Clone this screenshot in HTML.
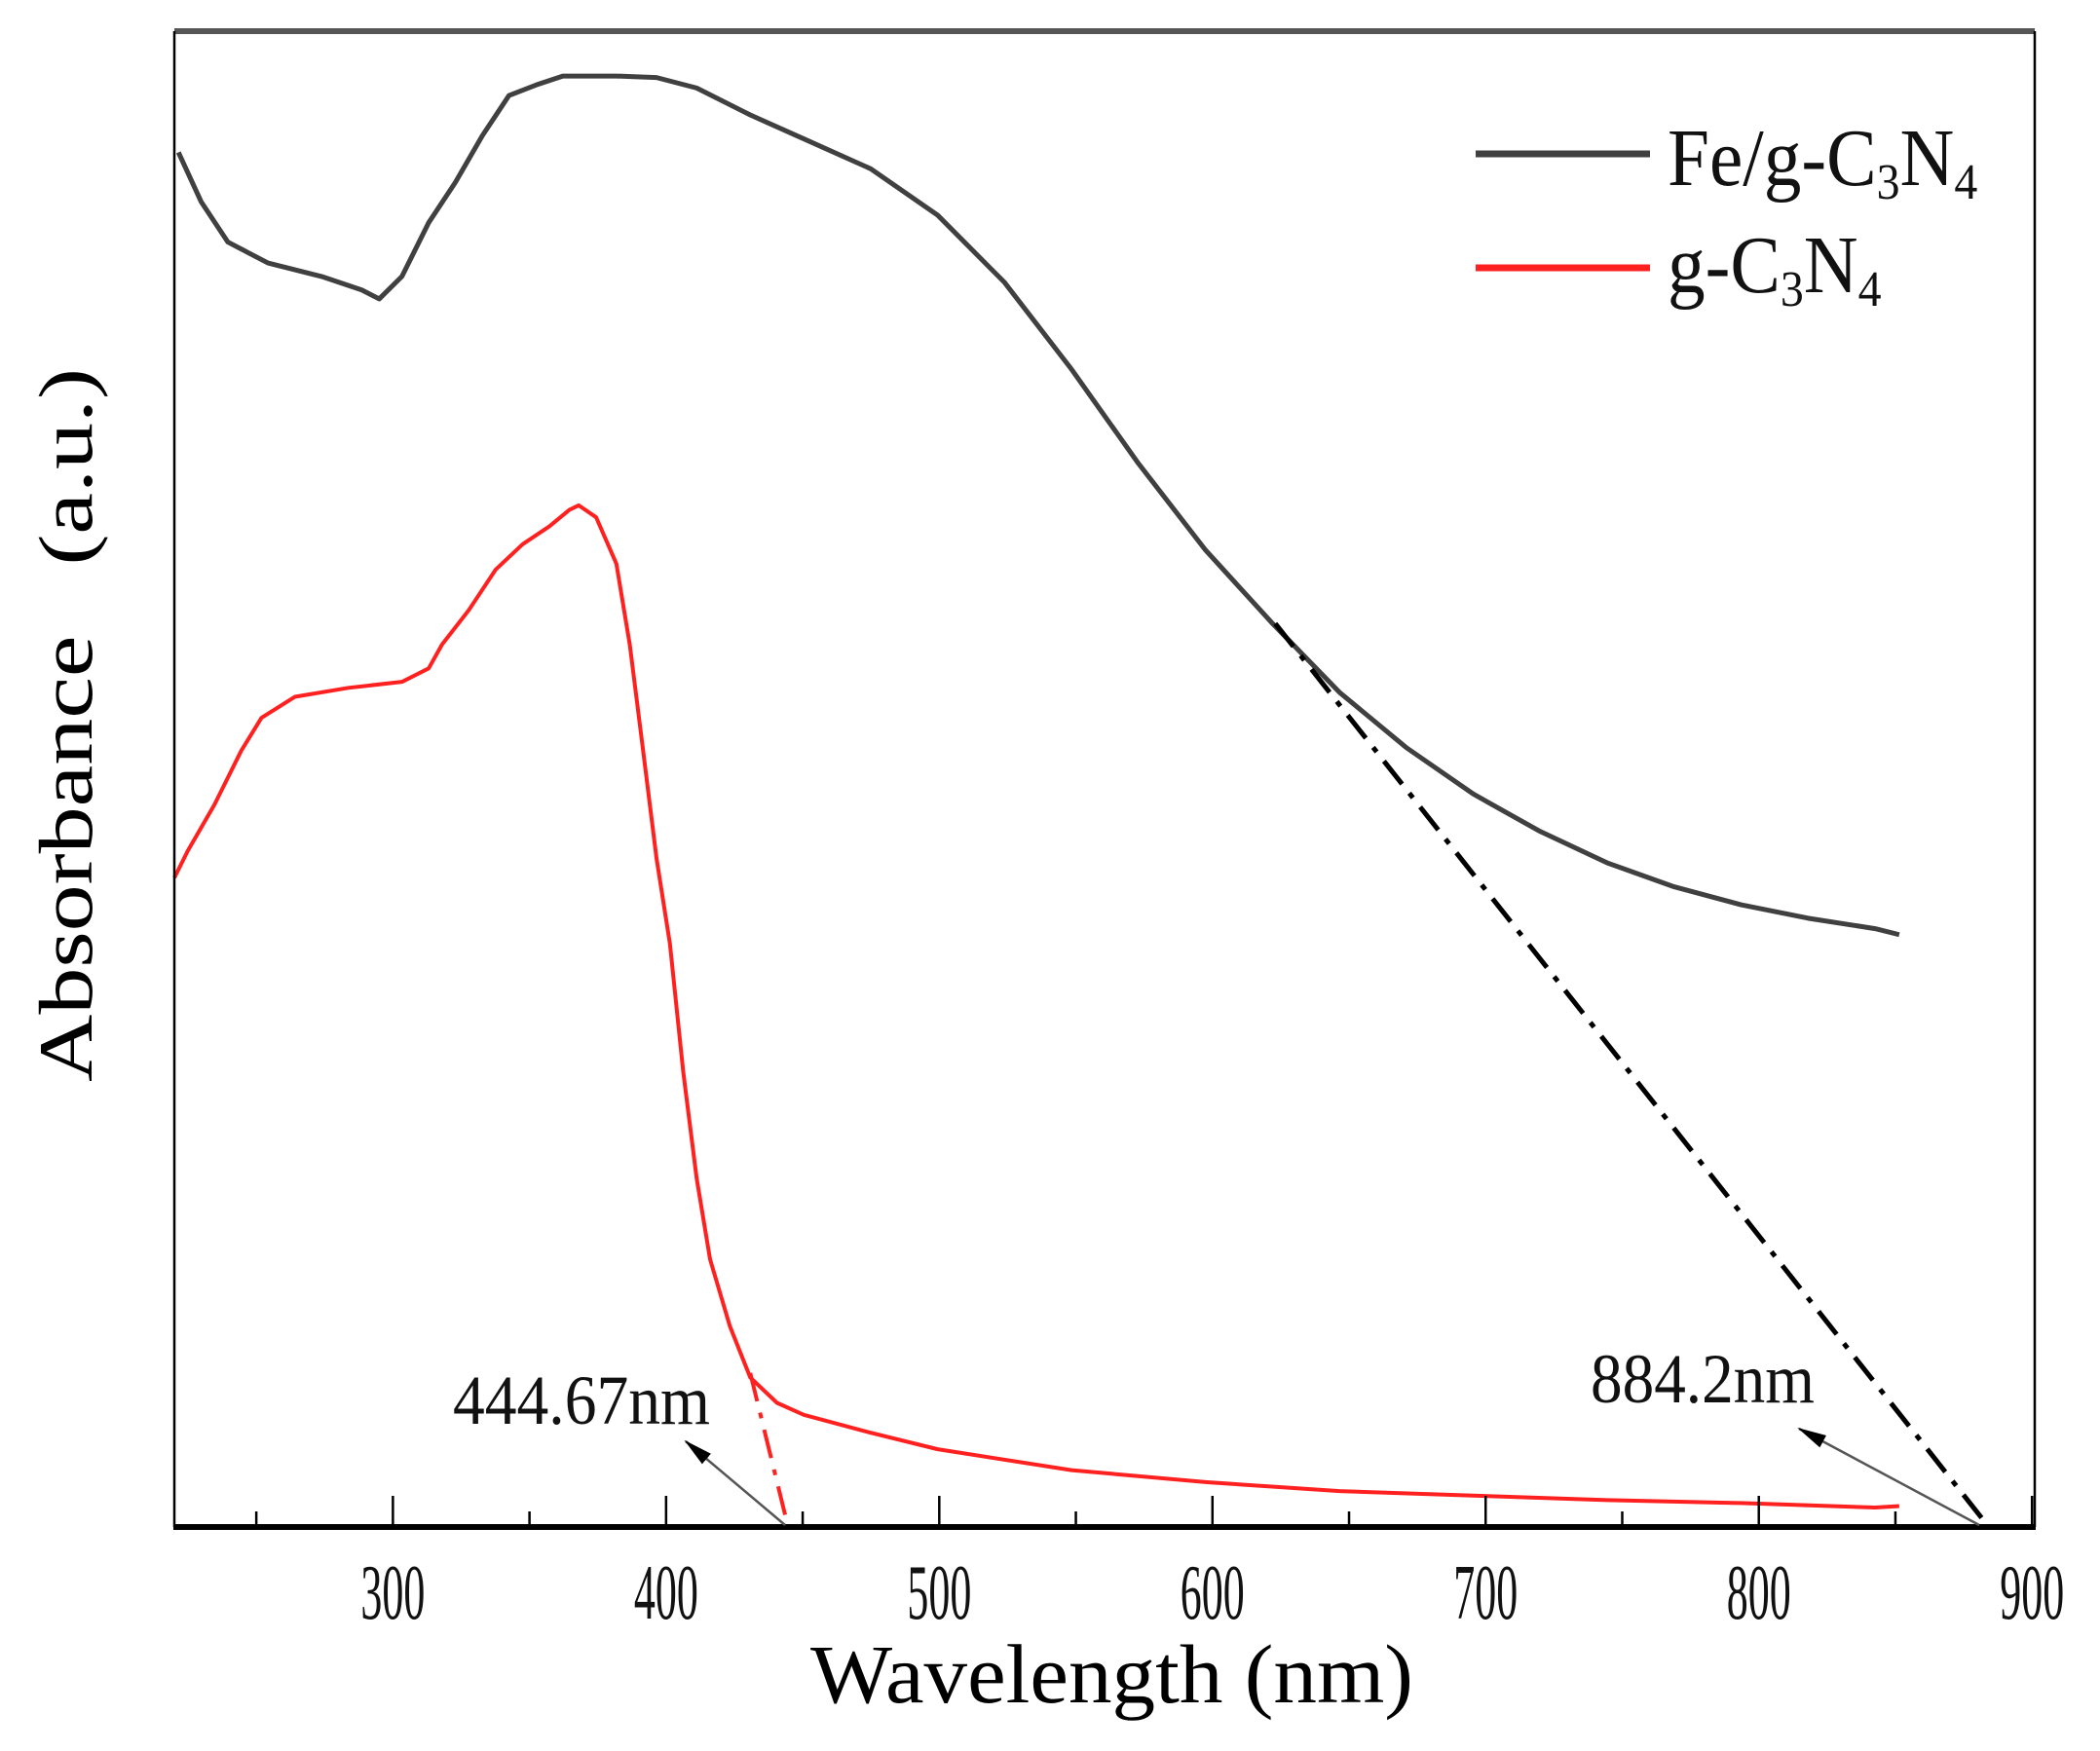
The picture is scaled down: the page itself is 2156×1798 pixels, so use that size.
<!DOCTYPE html>
<html><head><meta charset="utf-8"><style>
html,body{margin:0;padding:0;background:#fff;}
svg{display:block;font-family:"Liberation Serif",serif;}
</style></head><body>
<svg id="chart" width="2156" height="1798" viewBox="0 0 2156 1798">
<defs>
<marker id="ah" markerWidth="30" markerHeight="20" refX="28" refY="10" orient="auto" markerUnits="userSpaceOnUse" viewBox="0 0 30 20">
<path d="M0,3 L30,10 L0,17 Z" fill="#000"/>
</marker>
</defs>
<g id="plot"></g>
<text x="1712" y="190" font-size="84" fill="#111" transform="translate(1712,0) scale(0.92,1) translate(-1712,0)">Fe/g-C<tspan font-size="52" dy="14">3</tspan><tspan dy="-14">N</tspan><tspan font-size="52" dy="14">4</tspan></text>
<text x="1712" y="300" font-size="84" fill="#111" transform="translate(1712,0) scale(0.92,1) translate(-1712,0)">g-C<tspan font-size="52" dy="14">3</tspan><tspan dy="-14">N</tspan><tspan font-size="52" dy="14">4</tspan></text>
</svg>
<script>
const feX=[221.5,229.8,239.6,254.3,273.9,288.6,295,303.3,313.1,322.9,332.7,342.5,352.4,362.2,381.8,396.5,411.2,430.8,450.4,474.9,499.4,523.9,548.4,572.9,597.5,622,646.5,671,695.5,720,744.5,769,793.5,818,842.6,851.4];
const feY=[0.919,0.886,0.859,0.845,0.836,0.827,0.821,0.836,0.872,0.899,0.930,0.957,0.964,0.970,0.970,0.969,0.962,0.944,0.928,0.908,0.877,0.832,0.774,0.711,0.653,0.604,0.558,0.521,0.490,0.465,0.444,0.428,0.416,0.407,0.400,0.396];
const cnX=[220,224.9,234.7,244.5,251.9,264.1,283.7,303.3,313.1,318,327.8,337.6,347.5,357.3,364.6,368,374.4,381.8,386.7,391.6,396.5,401.4,406.3,411.2,416.1,423.4,430.8,440.6,450.4,474.9,499.4,548.4,597.5,646.5,695.5,744.5,793.5,842.6,851.4];
const cnY=[0.434,0.452,0.483,0.519,0.541,0.555,0.561,0.565,0.574,0.590,0.613,0.640,0.657,0.669,0.680,0.683,0.675,0.644,0.590,0.519,0.447,0.390,0.304,0.233,0.179,0.134,0.100,0.083,0.075,0.063,0.052,0.038,0.030,0.024,0.021,0.018,0.016,0.013,0.014];
const feTangent=[[623,0.604],[884.2,0]];
const cnTangent=[[430.8,0.103],[444.67,0]];
const majorTicks=[300,400,500,600,700,800,900];
const minorTicks=[250,350,450,550,650,750,850];
const tickLabels=["300","400","500","600","700","800","900"];

(function(){
const L=179,R=2089,T=32,B=1568;
const xMin=220,xMax=901;
const sx=v=>L+(v-xMin)/(xMax-xMin)*(R-L);
const sy=v=>B-v*(B-T);
const NS="http://www.w3.org/2000/svg";
const g=document.getElementById('plot');
function mk(tag,attrs){const e=document.createElementNS(NS,tag);for(const k in attrs)e.setAttribute(k,attrs[k]);g.appendChild(e);return e;}

const pFe=mk('polyline',{points:feX.map((x,i)=>sx(x)+','+sy(feY[i])).join(' '),fill:'none',stroke:'#404040','stroke-width':5,'stroke-linejoin':'round'});


const pCn=mk('polyline',{points:cnX.map((x,i)=>sx(x)+','+sy(cnY[i])).join(' '),fill:'none',stroke:'#ff2020','stroke-width':4,'stroke-linejoin':'round'});


const tFe=mk('line',{x1:sx(feTangent[0][0]),y1:sy(feTangent[0][1]),x2:sx(feTangent[1][0]),y2:sy(feTangent[1][1]),stroke:'#000','stroke-width':5,'stroke-dasharray':'30,12,6,12'});


const tCn=mk('line',{x1:sx(cnTangent[0][0]),y1:sy(cnTangent[0][1]),x2:sx(cnTangent[1][0]),y2:sy(cnTangent[1][1]),stroke:'#ff2020','stroke-width':4,'stroke-dasharray':'30,12,6,12'});



const axTop=mk('line',{x1:L,y1:T,x2:R,y2:T,stroke:'#555','stroke-width':6});


const axLeft=mk('line',{x1:L,y1:T,x2:L,y2:B,stroke:'#000','stroke-width':2.5});


const axRight=mk('line',{x1:R,y1:T,x2:R,y2:B,stroke:'#000','stroke-width':2.5});


const axBot=mk('line',{x1:L-1,y1:B,x2:R+1,y2:B,stroke:'#000','stroke-width':6});



majorTicks.forEach((t,i)=>{
  const tk=mk('line',{x1:sx(t),y1:B,x2:sx(t),y2:B-32,stroke:'#000','stroke-width':2.5});
  
  
  const lb=mk('text',{x:sx(t),y:1662,'font-size':80,'text-anchor':'middle',textLength:66,lengthAdjust:'spacingAndGlyphs',fill:'#111'});
  lb.textContent=tickLabels[i];
  
  
});
minorTicks.forEach(t=>{
  const tk=mk('line',{x1:sx(t),y1:B,x2:sx(t),y2:B-16,stroke:'#000','stroke-width':2.5});
  
  
});

const xt=mk('text',{x:832,y:1748,'font-size':86,textLength:619,lengthAdjust:'spacingAndGlyphs',fill:'#000'});
xt.textContent='Wavelength (nm)';


const yt=mk('text',{x:0,y:0,'font-size':78,textLength:733,lengthAdjust:'spacingAndGlyphs',fill:'#000',transform:'translate(94,1111) rotate(-90)'});
yt.textContent='Absorbance \u00a0\u00a0(a.u.)';



const a1=mk('line',{x1:806,y1:1566,x2:704,y2:1480,stroke:'#555','stroke-width':2.5,'marker-end':'url(#ah)'});


const a2=mk('line',{x1:2032,y1:1566,x2:1847,y2:1467,stroke:'#555','stroke-width':2.5,'marker-end':'url(#ah)'});


const l1=mk('text',{x:465,y:1462,'font-size':72,textLength:264,lengthAdjust:'spacingAndGlyphs',fill:'#111'});
l1.textContent='444.67nm';


const l2=mk('text',{x:1633,y:1440,'font-size':72,textLength:230,lengthAdjust:'spacingAndGlyphs',fill:'#111'});
l2.textContent='884.2nm';



const lg1=mk('line',{x1:1515,y1:158,x2:1694,y2:158,stroke:'#404040','stroke-width':7});


const lg2=mk('line',{x1:1515,y1:275,x2:1694,y2:275,stroke:'#ff2020','stroke-width':7});


})();
</script>
</body></html>
